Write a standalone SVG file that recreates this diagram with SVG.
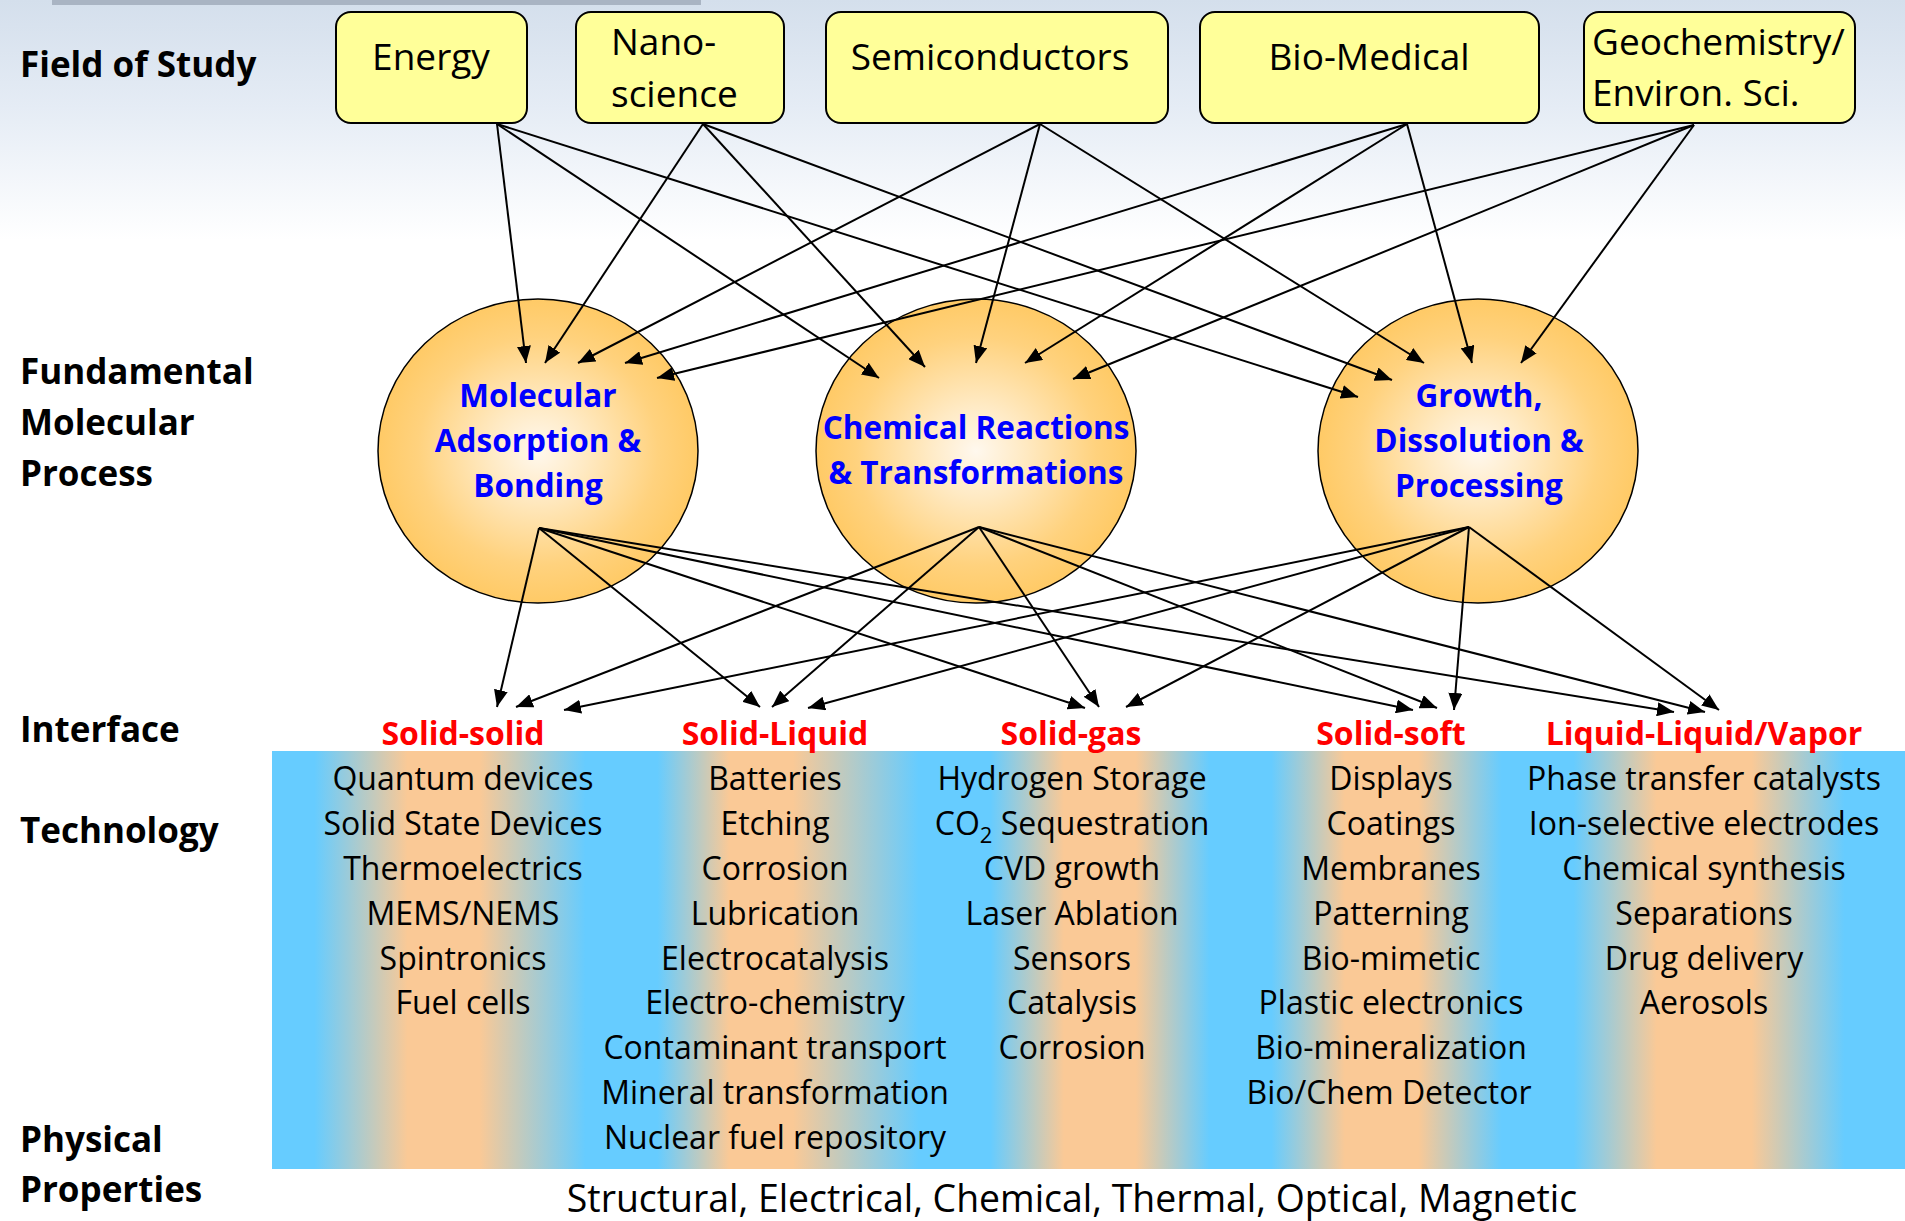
<svg xmlns="http://www.w3.org/2000/svg" width="1905" height="1221" viewBox="0 0 1905 1221">
<defs>
<linearGradient id="sky" x1="0" y1="0" x2="0" y2="240" gradientUnits="userSpaceOnUse">
<stop offset="0" stop-color="#D4DFEC"/>
<stop offset="0.45" stop-color="#E5ECF5"/>
<stop offset="1" stop-color="#FFFFFF"/>
</linearGradient>
<radialGradient id="ell" cx="0.5" cy="0.5" r="0.5">
<stop offset="0" stop-color="#FFF8EE"/>
<stop offset="0.3" stop-color="#FFEAC4"/>
<stop offset="0.75" stop-color="#FFD27E"/>
<stop offset="1" stop-color="#FFCA66"/>
</radialGradient>
<linearGradient id="band" x1="272" y1="0" x2="1905" y2="0" gradientUnits="userSpaceOnUse">
<stop offset="0" stop-color="#66CCFF"/>
<stop offset="0.026" stop-color="#66CCFF"/>
<stop offset="0.083" stop-color="#FAC996"/>
<stop offset="0.127" stop-color="#FAC996"/>
<stop offset="0.192" stop-color="#66CCFF"/>
<stop offset="0.236" stop-color="#66CCFF"/>
<stop offset="0.280" stop-color="#FAC996"/>
<stop offset="0.319" stop-color="#FAC996"/>
<stop offset="0.396" stop-color="#66CCFF"/>
<stop offset="0.440" stop-color="#66CCFF"/>
<stop offset="0.485" stop-color="#FAC996"/>
<stop offset="0.529" stop-color="#FAC996"/>
<stop offset="0.574" stop-color="#66CCFF"/>
<stop offset="0.612" stop-color="#66CCFF"/>
<stop offset="0.657" stop-color="#FAC996"/>
<stop offset="0.702" stop-color="#FAC996"/>
<stop offset="0.753" stop-color="#66CCFF"/>
<stop offset="0.797" stop-color="#66CCFF"/>
<stop offset="0.848" stop-color="#FAC996"/>
<stop offset="0.906" stop-color="#FAC996"/>
<stop offset="0.963" stop-color="#66CCFF"/>
<stop offset="1" stop-color="#66CCFF"/>
</linearGradient>
<marker id="arr" markerWidth="17" markerHeight="14" refX="17" refY="7" orient="auto" markerUnits="userSpaceOnUse">
<path d="M0,0 L17,7 L0,14 z" fill="#000"/>
</marker>
</defs>
<style>
.lbl{font-family:"Open Sans","Noto Sans","Liberation Sans",sans-serif;font-weight:bold;font-size:35px;fill:#000}
.box{fill:#FFFF99;stroke:#000;stroke-width:2}
.boxt{font-family:"Open Sans","Noto Sans","Liberation Sans",sans-serif;font-size:37px;fill:#000}
.ell{fill:url(#ell);stroke:#000;stroke-width:1.5}
.ellt{font-family:"Open Sans","Noto Sans","Liberation Sans",sans-serif;font-weight:bold;font-size:31.5px;fill:#0000FF;text-anchor:middle}
.ifc{font-family:"Open Sans","Noto Sans","Liberation Sans",sans-serif;font-weight:bold;font-size:32px;fill:#FF0000;text-anchor:middle}
.tech{font-family:"Open Sans","Noto Sans","Liberation Sans",sans-serif;font-size:32px;fill:#000;text-anchor:middle}
.prop{font-family:"Open Sans","Noto Sans","Liberation Sans",sans-serif;font-size:37.4px;fill:#000;text-anchor:middle}
#connectors line{stroke:#000;stroke-width:2;marker-end:url(#arr)}
</style>
<rect x="0" y="0" width="1905" height="1221" fill="#FFFFFF"/>
<rect x="0" y="0" width="1905" height="240" fill="url(#sky)"/>
<rect x="52" y="0" width="649" height="5" fill="#A9B4C3"/>

<g id="row-labels">
<text class="lbl" x="20" y="77">Field of Study</text>
<text class="lbl" x="20" y="384">Fundamental</text>
<text class="lbl" x="20" y="435">Molecular</text>
<text class="lbl" x="20" y="486">Process</text>
<text class="lbl" x="20" y="742">Interface</text>
<text class="lbl" x="20" y="843">Technology</text>
<text class="lbl" x="20" y="1152">Physical</text>
<text class="lbl" x="20" y="1202">Properties</text>
</g>

<g id="field-energy">
<rect class="box" x="336" y="12" width="191" height="111" rx="15"/>
<text class="boxt" x="431" y="70" text-anchor="middle">Energy</text>
</g>
<g id="field-nano">
<rect class="box" x="576" y="12" width="208" height="111" rx="15"/>
<text class="boxt" x="611" y="55">Nano-</text>
<text class="boxt" x="611" y="107">science</text>
</g>
<g id="field-semi">
<rect class="box" x="826" y="12" width="342" height="111" rx="15"/>
<text class="boxt" x="990" y="70" text-anchor="middle">Semiconductors</text>
</g>
<g id="field-bio">
<rect class="box" x="1200" y="12" width="339" height="111" rx="15"/>
<text class="boxt" x="1369" y="70" text-anchor="middle">Bio-Medical</text>
</g>
<g id="field-geo">
<rect class="box" x="1584" y="12" width="271" height="111" rx="15"/>
<text class="boxt" x="1592" y="55">Geochemistry/</text>
<text class="boxt" x="1592" y="106">Environ. Sci.</text>
</g>

<g id="proc-adsorption">
<ellipse class="ell" cx="538" cy="451" rx="160" ry="152"/>
<text class="ellt" x="538" y="407">Molecular</text>
<text class="ellt" x="538" y="452">Adsorption &amp;</text>
<text class="ellt" x="538" y="497">Bonding</text>
</g>
<g id="proc-reactions">
<ellipse class="ell" cx="976" cy="451" rx="160" ry="152"/>
<text class="ellt" x="976" y="439">Chemical Reactions</text>
<text class="ellt" x="976" y="484">&amp; Transformations</text>
</g>
<g id="proc-growth">
<ellipse class="ell" cx="1478" cy="451" rx="160" ry="152"/>
<text class="ellt" x="1479" y="407">Growth,</text>
<text class="ellt" x="1479" y="452">Dissolution &amp;</text>
<text class="ellt" x="1479" y="497">Processing</text>
</g>

<rect id="tech-band" x="272" y="751" width="1633" height="418" fill="url(#band)"/>

<g id="if-solid-solid">
<text class="ifc" x="463" y="745">Solid-solid</text>
<text class="tech" x="463" y="790">Quantum devices</text>
<text class="tech" x="463" y="835">Solid State Devices</text>
<text class="tech" x="463" y="880">Thermoelectrics</text>
<text class="tech" x="463" y="925">MEMS/NEMS</text>
<text class="tech" x="463" y="970">Spintronics</text>
<text class="tech" x="463" y="1014">Fuel cells</text>
</g>
<g id="if-solid-liquid">
<text class="ifc" x="775" y="745">Solid-Liquid</text>
<text class="tech" x="775" y="790">Batteries</text>
<text class="tech" x="775" y="835">Etching</text>
<text class="tech" x="775" y="880">Corrosion</text>
<text class="tech" x="775" y="925">Lubrication</text>
<text class="tech" x="775" y="970">Electrocatalysis</text>
<text class="tech" x="775" y="1014">Electro-chemistry</text>
<text class="tech" x="775" y="1059">Contaminant transport</text>
<text class="tech" x="775" y="1104">Mineral transformation</text>
<text class="tech" x="775" y="1149">Nuclear fuel repository</text>
</g>
<g id="if-solid-gas">
<text class="ifc" x="1071" y="745">Solid-gas</text>
<text class="tech" x="1072" y="790">Hydrogen Storage</text>
<text class="tech" x="1072" y="835">CO<tspan font-size="22" dy="8">2</tspan><tspan dy="-8"> Sequestration</tspan></text>
<text class="tech" x="1072" y="880">CVD growth</text>
<text class="tech" x="1072" y="925">Laser Ablation</text>
<text class="tech" x="1072" y="970">Sensors</text>
<text class="tech" x="1072" y="1014">Catalysis</text>
<text class="tech" x="1072" y="1059">Corrosion</text>
</g>
<g id="if-solid-soft">
<text class="ifc" x="1391" y="745">Solid-soft</text>
<text class="tech" x="1391" y="790">Displays</text>
<text class="tech" x="1391" y="835">Coatings</text>
<text class="tech" x="1391" y="880">Membranes</text>
<text class="tech" x="1391" y="925">Patterning</text>
<text class="tech" x="1391" y="970">Bio-mimetic</text>
<text class="tech" x="1391" y="1014">Plastic electronics</text>
<text class="tech" x="1391" y="1059">Bio-mineralization</text>
<text class="tech" x="1389" y="1104">Bio/Chem Detector</text>
</g>
<g id="if-liquid">
<text class="ifc" x="1704" y="745">Liquid-Liquid/Vapor</text>
<text class="tech" x="1704" y="790">Phase transfer catalysts</text>
<text class="tech" x="1704" y="835">Ion-selective electrodes</text>
<text class="tech" x="1704" y="880">Chemical synthesis</text>
<text class="tech" x="1704" y="925">Separations</text>
<text class="tech" x="1704" y="970">Drug delivery</text>
<text class="tech" x="1704" y="1014">Aerosols</text>
</g>

<g id="properties">
<text class="prop" x="1072" y="1212">Structural, Electrical, Chemical, Thermal, Optical, Magnetic</text>
</g>

<g id="connectors">
<line x1="497" y1="124" x2="526" y2="363"/>
<line x1="497" y1="124" x2="879" y2="378"/>
<line x1="497" y1="124" x2="1358" y2="397"/>
<line x1="703" y1="124" x2="545" y2="363"/>
<line x1="703" y1="124" x2="925" y2="367"/>
<line x1="703" y1="124" x2="1392" y2="380"/>
<line x1="1040" y1="124" x2="578" y2="363"/>
<line x1="1040" y1="124" x2="976" y2="363"/>
<line x1="1040" y1="124" x2="1424" y2="363"/>
<line x1="1407" y1="124" x2="625" y2="363"/>
<line x1="1407" y1="124" x2="1025" y2="363"/>
<line x1="1407" y1="124" x2="1472" y2="363"/>
<line x1="1694" y1="125" x2="657" y2="378"/>
<line x1="1694" y1="125" x2="1073" y2="379"/>
<line x1="1694" y1="125" x2="1521" y2="363"/>
<line x1="539" y1="528" x2="497" y2="707"/>
<line x1="539" y1="528" x2="760" y2="707"/>
<line x1="539" y1="528" x2="1085" y2="708"/>
<line x1="539" y1="528" x2="1413" y2="710"/>
<line x1="539" y1="528" x2="1674" y2="712"/>
<line x1="979" y1="527" x2="516" y2="707"/>
<line x1="979" y1="527" x2="772" y2="707"/>
<line x1="979" y1="527" x2="1099" y2="707"/>
<line x1="979" y1="527" x2="1437" y2="708"/>
<line x1="979" y1="527" x2="1705" y2="712"/>
<line x1="1469" y1="527" x2="564" y2="710"/>
<line x1="1469" y1="527" x2="808" y2="708"/>
<line x1="1469" y1="527" x2="1126" y2="707"/>
<line x1="1469" y1="527" x2="1454" y2="710"/>
<line x1="1469" y1="527" x2="1719" y2="710"/>
</g>
</svg>
